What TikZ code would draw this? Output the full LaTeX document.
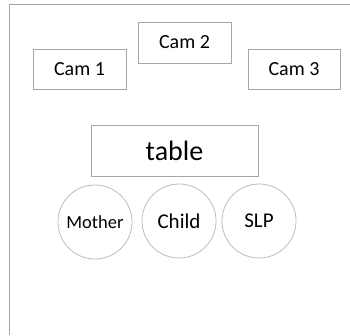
\documentclass[tikz,border=0pt]{standalone}
\usepackage{fontspec}
\setmainfont{Carlito}
\definecolor{edge}{HTML}{A6A6A6}
\definecolor{ring}{HTML}{BDBDBD}
\begin{document}
\begin{tikzpicture}[x=1pt,y=-1pt,
  box/.style={draw=edge,line width=0.8pt,minimum width=#1,inner sep=0pt},
  person/.style={draw=ring,line width=0.8pt,circle,minimum size=74pt,inner sep=0pt,font=\fontsize{20}{22}\selectfont}]
\useasboundingbox (0,0) rectangle (350,335);
% outer frame (open to the right and bottom)
\draw[edge,line width=1pt] (9,335) -- (9,4) -- (350,4);
% cameras
\node[box=93pt,minimum height=40pt,font=\fontsize{20}{22}\selectfont] (cam1) at (79.5,69) {Cam 1};
\node[box=93pt,minimum height=41pt,font=\fontsize{20}{22}\selectfont] (cam2) at (184.5,42.5) {Cam 2};
\node[box=92pt,minimum height=40pt,font=\fontsize{20}{22}\selectfont] (cam3) at (294,69) {\raisebox{-2pt}{Cam 3}};
% table
\node[box=167pt,minimum height=51pt,font=\fontsize{28}{30}\selectfont] (table) at (174.5,150.5) {table};
% people round the table
\node[person,font=\fontsize{18.5}{20}\selectfont] (mother) at (95,222) {Mother};
\node[person,font=\fontsize{21}{22}\selectfont] (child) at (179,221) {Child};
\node[person,font=\fontsize{21}{22}\selectfont] (slp) at (259,221) {SLP};
\end{tikzpicture}
\end{document}
